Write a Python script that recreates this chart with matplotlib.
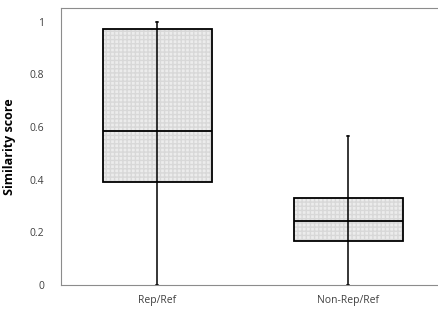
import matplotlib.pyplot as plt

plt.rcParams['font.family'] = ['Open Sans', 'DejaVu Sans']

labels = ['Rep/Ref', 'Non-Rep/Ref']
q1 = [0.39, 0.167]
med = [0.583, 0.241]
q3 = [0.972, 0.332]
whislo = [0.0, 0.0]
whishi = [1.0, 0.566]

positions = [1, 2]
stats = []
for i in range(len(labels)):
    stats.append({'label': labels[i], 'q1': q1[i], 'med': med[i], 'q3': q3[i],
                  'whislo': whislo[i], 'whishi': whishi[i], 'fliers': []})

fig = plt.figure(figsize=(4.39, 3.09), dpi=100)
ax = fig.add_axes([0.139, 0.078, 0.859, 0.896])

# dotted grey fill behind the boxes
for i, p in enumerate(positions):
    ax.bar(p, q3[i] - q1[i], bottom=q1[i], width=0.57, color='#ececec',
           hatch='++++', edgecolor='#d8d8d8', linewidth=0, zorder=1)

ax.bxp(stats, positions=positions, widths=0.57, patch_artist=True,
       showfliers=False, capwidths=0.012,
       boxprops=dict(facecolor='none', edgecolor='black', linewidth=1.3),
       medianprops=dict(color='black', linewidth=1.3),
       whiskerprops=dict(color='black', linewidth=1.1),
       capprops=dict(color='black', linewidth=1.1), zorder=2)
# whisker line runs through the box as well
ax.vlines(positions, q1, q3, color='black', linewidth=1.1, zorder=3)

ax.set_xlim(0.497, 2.47)
ax.set_ylim(0, 1.052)
ax.set_yticks([0, 0.2, 0.4, 0.6, 0.8, 1.0])
ax.set_yticklabels(['0', '0.2', '0.4', '0.6', '0.8', '1'])
ax.tick_params(length=0, labelsize=7.5, colors='#404040', pad=12)
ax.tick_params(axis='x', pad=7)
ax.set_ylabel('Similarity score', fontsize=9, fontweight='bold', labelpad=10)
for s in ax.spines.values():
    s.set_color('#8c8c8c')
    s.set_linewidth(0.8)
ax.spines['right'].set_visible(False)

fig.savefig('out.png', dpi=100)
